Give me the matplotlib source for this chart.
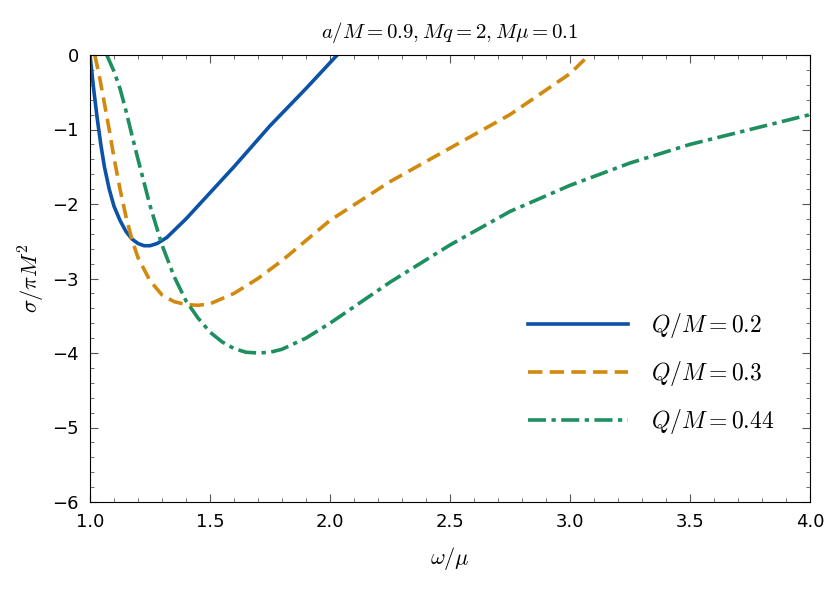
import matplotlib
matplotlib.use("Agg")
import matplotlib.pyplot as plt
from matplotlib.ticker import MultipleLocator, FormatStrFormatter

plt.rcParams["mathtext.fontset"] = "cm"

blue_x = [1.0, 1.015, 1.03, 1.045, 1.06, 1.08, 1.1, 1.125, 1.15, 1.175, 1.2, 1.225, 1.25, 1.28, 1.32, 1.4, 1.5, 1.6, 1.75, 1.9, 2.03]
blue_y = [0.0, -0.45, -0.85, -1.2, -1.5, -1.8, -2.03, -2.22, -2.37, -2.47, -2.53, -2.56, -2.56, -2.53, -2.45, -2.2, -1.85, -1.5, -0.95, -0.45, 0.0]

orange_x = [1.02, 1.04, 1.06, 1.08, 1.1, 1.125, 1.15, 1.175, 1.2, 1.25, 1.3, 1.35, 1.4, 1.45, 1.5, 1.6, 1.7, 1.8, 2.0, 2.25, 2.5, 2.75, 3.0, 3.08]
orange_y = [0.0, -0.3, -0.65, -1.0, -1.38, -1.8, -2.17, -2.48, -2.72, -3.03, -3.22, -3.31, -3.35, -3.36, -3.34, -3.2, -3.0, -2.76, -2.22, -1.7, -1.25, -0.8, -0.25, 0.0]

green_x = [1.07, 1.1, 1.125, 1.15, 1.175, 1.2, 1.25, 1.3, 1.35, 1.4, 1.45, 1.5, 1.55, 1.6, 1.65, 1.7, 1.75, 1.8, 1.9, 2.0, 2.25, 2.5, 2.75, 3.0, 3.25, 3.5, 3.75, 4.0]
green_y = [0.0, -0.22, -0.45, -0.75, -1.08, -1.4, -2.02, -2.55, -2.97, -3.3, -3.53, -3.72, -3.85, -3.94, -3.99, -4.0, -3.99, -3.95, -3.8, -3.6, -3.05, -2.55, -2.1, -1.75, -1.45, -1.2, -1.0, -0.8]

labels = ["$Q/M=0.2$", "$Q/M=0.3$", "$Q/M=0.44$"]

fig = plt.figure(figsize=(8.3, 6), dpi=100)
ax = fig.add_axes([90/830, 1-502/600, 720/830, 447/600])
ax.plot(blue_x, blue_y, color="#0b52a8", lw=2.6, label=labels[0])
ax.plot(orange_x, orange_y, color="#d18a0e", lw=2.6, ls=(0, (4, 2)), label=labels[1])
ax.plot(green_x, green_y, color="#1e8f5e", lw=2.6, ls=(0, (5, 1.5, 1.2, 1.5)), label=labels[2])
ax.set_xlim(1.0, 4.0)
ax.set_ylim(-6, 0)
ax.xaxis.set_major_locator(MultipleLocator(0.5))
ax.xaxis.set_minor_locator(MultipleLocator(0.1))
ax.yaxis.set_major_locator(MultipleLocator(1))
ax.yaxis.set_minor_locator(MultipleLocator(0.2))
ax.xaxis.set_major_formatter(FormatStrFormatter("%.1f"))
ax.tick_params(which="both", direction="in", top=True, right=True, labelsize=13, color="#555555")
ax.tick_params(which="major", length=6)
ax.tick_params(which="minor", length=3)
ax.tick_params(axis="x", pad=8)
ax.tick_params(axis="y", pad=8)
ax.set_xlabel(r"$\omega/\mu$", fontsize=16, labelpad=10)
ax.set_ylabel(r"$\sigma/\pi M^2$", fontsize=16)
ax.set_title(r"$a/M=0.9, Mq=2, M\mu=0.1$", fontsize=15, pad=12)
ax.legend(loc="lower right", bbox_to_anchor=(0.98, 0.1), frameon=False, fontsize=17,
          handlelength=4.2, handletextpad=1.0, labelspacing=0.8)
fig.savefig("out.png")
